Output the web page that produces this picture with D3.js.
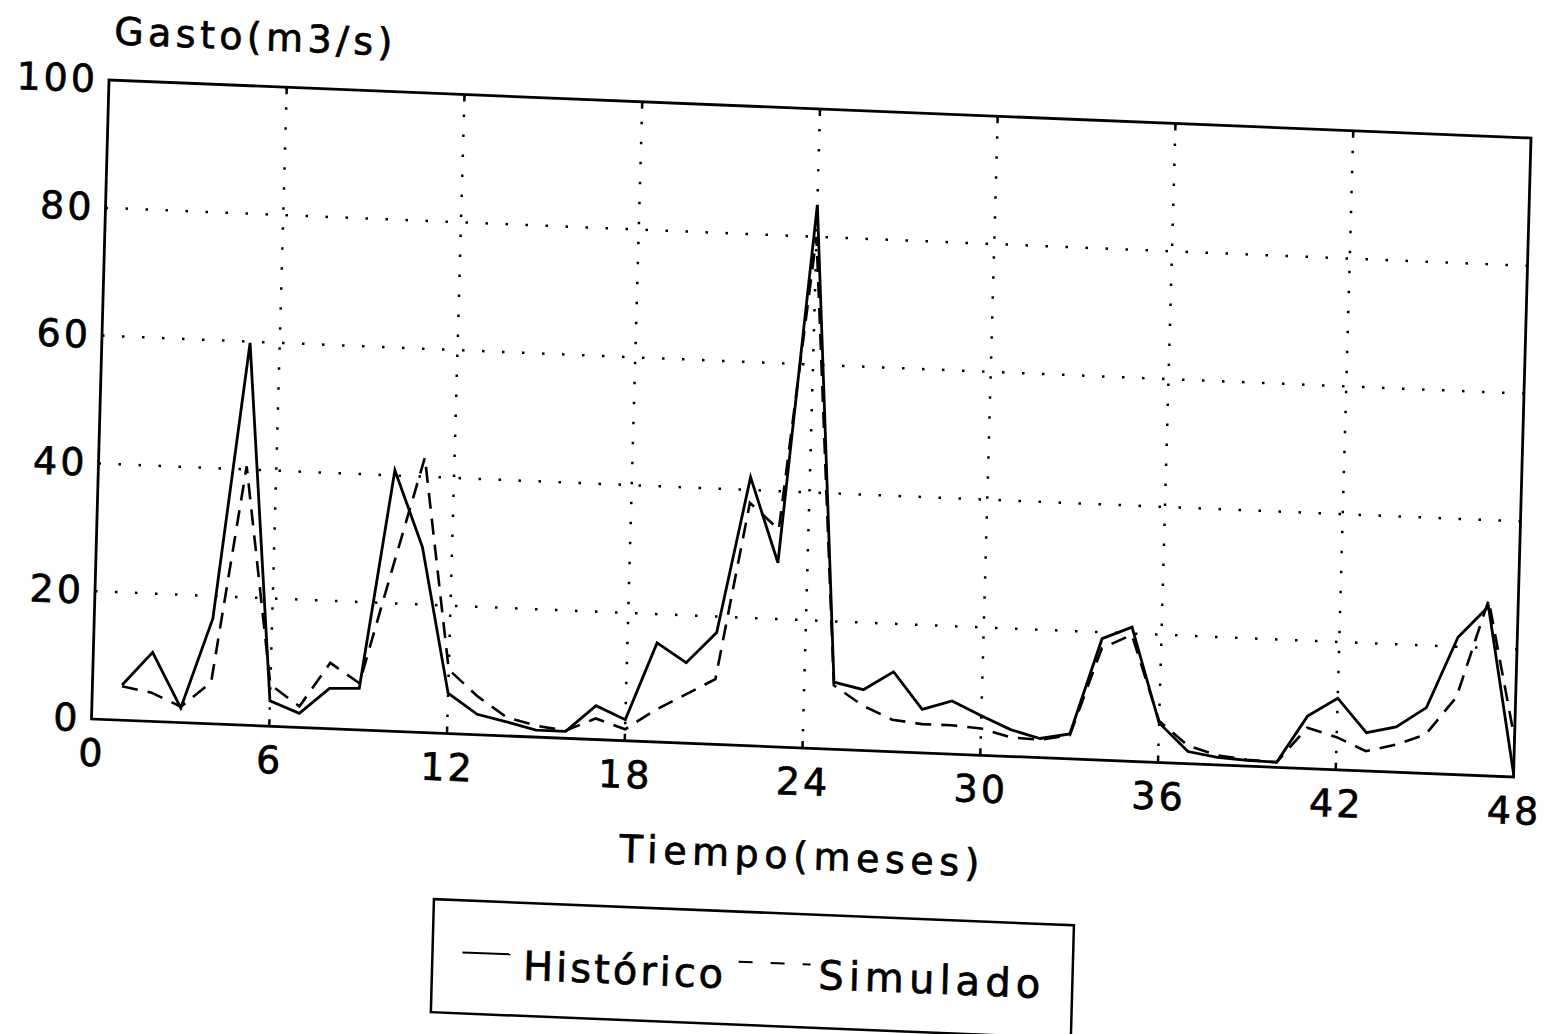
<!DOCTYPE html>
<html>
<head>
<meta charset="utf-8">
<script src="https://cdn.jsdelivr.net/npm/d3@7"></script>
<style>
  body { margin: 0; background: #fff; }
  text { font-family: "DejaVu Sans", "Liberation Sans", Arial, sans-serif; fill: #000; stroke: #000; stroke-width: 0.7px; }
</style>
</head>
<body>
<svg id="chart" width="1546" height="1034"></svg>
<script>
// Monthly flow (m3/s)
var meses = d3.range(1, 49);
var historico = [5.5, 10.8, 2.3, 16.5, 59.8, 4.0, 2.2, 6.3, 6.5, 40.8, 29.0, 6.3,
                 3.2, 2.2, 1.1, 1.1, 5.3, 3.3, 15.5, 12.6, 17.5, 42.0, 28.8, 85.0,
                 10.5, 9.5, 12.5, 6.8, 8.3, 6.2, 4.2, 3.0, 3.9, 19.0, 21.0, 6.2,
                 1.9, 1.2, 0.9, 0.8, 8.2, 11.2, 6.0, 7.1, 10.3, 21.5, 26.5, 0.5];
var simulado = [5.3, 4.5, 2.5, 6.5, 40.5, 6.5, 3.3, 10.3, 7.3, 25.3, 43.0, 10.0,
                6.0, 2.9, 1.8, 1.2, 3.3, 1.8, 5.0, 7.6, 10.2, 38.0, 34.0, 80.0,
                10.0, 7.0, 5.0, 4.5, 4.5, 4.2, 3.0, 2.8, 3.7, 17.5, 19.8, 6.5,
                2.8, 1.5, 1.0, 0.8, 6.4, 5.1, 3.1, 4.3, 6.1, 12.1, 27.5, 6.0];
var xTicks = [0, 6, 12, 18, 24, 30, 36, 42, 48];
var yTicks = [0, 20, 40, 60, 80, 100];
var xGrid = [6, 12, 18, 24, 30, 36, 42];
var yGrid = [20, 40, 60, 80];

var svg = d3.select('#chart');
svg.append('rect').attr('width', 1546).attr('height', 1034).attr('fill', '#fff');

var chartWidth = 1422;
var chartHeight = 639;

// the scan is skewed, so the whole chart sits in a slanted frame
var chartG = svg.append('g')
    .attr('transform', 'matrix(1,0.0408,-0.0274,1,109,80)');

var xScale = d3.scaleLinear().domain([0, 48]).range([0, chartWidth]);
var yScale = d3.scaleLinear().domain([0, 100]).range([chartHeight, 0]);

// dotted grid
chartG.selectAll('.vgrid')
    .data(xGrid)
    .enter()
    .append('line')
    .attr('class', 'vgrid')
    .attr('x1', function(d) { return xScale(d); })
    .attr('x2', function(d) { return xScale(d); })
    .attr('y1', 0)
    .attr('y2', chartHeight)
    .attr('stroke', '#000')
    .attr('stroke-width', 2.5)
    .attr('stroke-dasharray', '2.5,17.5');

chartG.selectAll('.hgrid')
    .data(yGrid)
    .enter()
    .append('line')
    .attr('class', 'hgrid')
    .attr('x1', 0)
    .attr('x2', chartWidth)
    .attr('y1', function(d) { return yScale(d); })
    .attr('y2', function(d) { return yScale(d); })
    .attr('stroke', '#000')
    .attr('stroke-width', 2.5)
    .attr('stroke-dasharray', '2.5,17.5');

// small inner ticks on top and bottom edges
chartG.selectAll('.tickTop')
    .data(xGrid)
    .enter()
    .append('line')
    .attr('x1', function(d) { return xScale(d); })
    .attr('x2', function(d) { return xScale(d); })
    .attr('y1', 0)
    .attr('y2', 7)
    .attr('stroke', '#000')
    .attr('stroke-width', 2.5);

chartG.selectAll('.tickBot')
    .data(xGrid)
    .enter()
    .append('line')
    .attr('x1', function(d) { return xScale(d); })
    .attr('x2', function(d) { return xScale(d); })
    .attr('y1', chartHeight)
    .attr('y2', chartHeight - 7)
    .attr('stroke', '#000')
    .attr('stroke-width', 2.5);

// frame
chartG.append('rect')
    .attr('x', 0)
    .attr('y', 0)
    .attr('width', chartWidth)
    .attr('height', chartHeight)
    .attr('fill', 'none')
    .attr('stroke', '#000')
    .attr('stroke-width', 2.8);

// axes (labels only)
var xAxisG = chartG.append('g')
    .attr('transform', 'translate(' + [0, chartHeight] + ')')
    .call(d3.axisBottom(xScale).tickValues(xTicks).tickSize(0).tickPadding(20).tickFormat(d3.format('d')));
var yAxisG = chartG.append('g')
    .call(d3.axisLeft(yScale).tickValues(yTicks).tickSize(0).tickPadding(14).tickFormat(d3.format('d')));

[xAxisG, yAxisG].forEach(function(g) {
    g.select('.domain').remove();
    g.selectAll('text')
        .attr('font-family', '"DejaVu Sans", "Liberation Sans", Arial, sans-serif')
        .attr('font-size', 38)
        .style('letter-spacing', '3px')
        .attr('fill', '#000');
});
yAxisG.selectAll('text').attr('dx', 3);
xAxisG.selectAll('text').attr('dx', 1);

// series
var line = d3.line()
    .x(function(d) { return xScale(d.m); })
    .y(function(d) { return yScale(d.v); });

var histData = meses.map(function(m, i) { return {m: m, v: historico[i]}; });
var simData = meses.map(function(m, i) { return {m: m, v: simulado[i]}; });

chartG.append('path')
    .datum(simData)
    .attr('d', line)
    .attr('fill', 'none')
    .attr('stroke', '#000')
    .attr('stroke-width', 2.6)
    .attr('stroke-dasharray', '16,10');

chartG.append('path')
    .datum(histData)
    .attr('d', line)
    .attr('fill', 'none')
    .attr('stroke', '#000')
    .attr('stroke-width', 2.8);

// titles
chartG.append('text')
    .attr('x', 4)
    .attr('y', -36)
    .attr('font-size', 38)
    .attr('textLength', 278)
    .attr('lengthAdjust', 'spacing')
    .text('Gasto(m3/s)');

chartG.append('text')
    .attr('x', chartWidth / 2 - 180)
    .attr('y', chartHeight + 121)
    .attr('font-size', 38)
    .attr('textLength', 360)
    .attr('lengthAdjust', 'spacing')
    .text('Tiempo(meses)');

// legend
var legendG = chartG.append('g').attr('transform', 'translate(347,805)');
legendG.append('rect')
    .attr('width', 640)
    .attr('height', 113)
    .attr('fill', '#fff')
    .attr('stroke', '#000')
    .attr('stroke-width', 2.5);
legendG.append('line')
    .attr('x1', 30).attr('x2', 78)
    .attr('y1', 52).attr('y2', 52)
    .attr('stroke', '#000').attr('stroke-width', 2);
legendG.append('text')
    .attr('x', 91).attr('y', 77)
    .attr('font-size', 40)
    .attr('textLength', 200)
    .attr('lengthAdjust', 'spacing')
    .text('Histórico');
legendG.append('line')
    .attr('x1', 306).attr('x2', 378)
    .attr('y1', 50).attr('y2', 50)
    .attr('stroke', '#000').attr('stroke-width', 2)
    .attr('stroke-dasharray', '14,18');
legendG.append('text')
    .attr('x', 386).attr('y', 74)
    .attr('font-size', 40)
    .attr('textLength', 222)
    .attr('lengthAdjust', 'spacing')
    .text('Simulado');
</script>
</body>
</html>
